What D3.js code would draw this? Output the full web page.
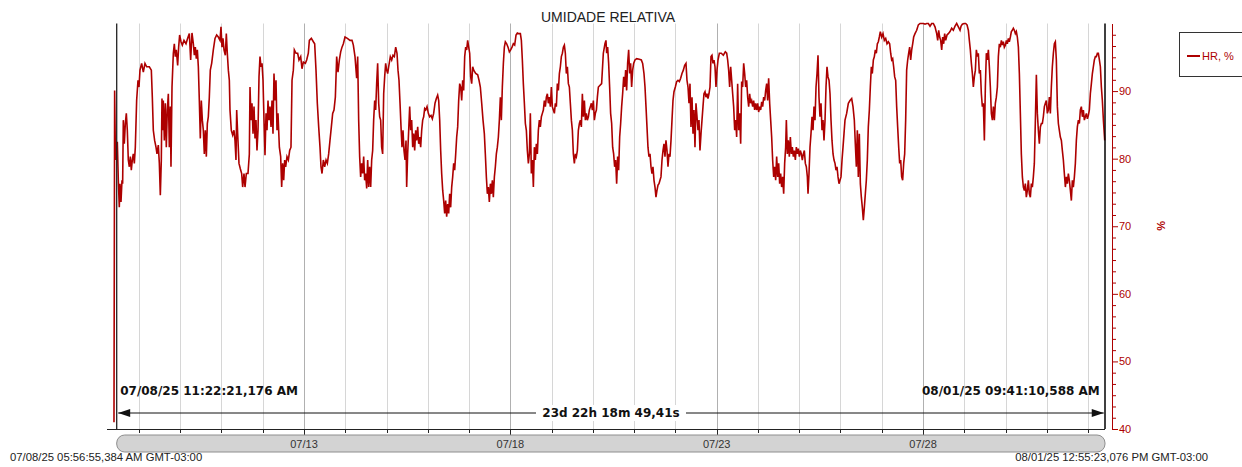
<!DOCTYPE html>
<html lang="pt">
<head>
    <meta charset="UTF-8">
    <title>Umidade Relativa</title>
    <script src="https://d3js.org/d3.v7.min.js"></script>
    <style>
body {
    margin: 0;
    background: #fff;
    font-family: "Liberation Sans", Arial, sans-serif;
}
svg {
    display: block;
}
    </style>
</head>
<body>
    <svg id="chart"></svg>

    <script>
// day offsets from 07/08/25 00:00 (GMT-03:00) and HR values in %
const hrDays1 = [0.396,0.412,0.428,0.444,0.477,0.501,0.525,0.541,0.566,0.590,0.606,0.622,0.646,0.671,0.695,0.719,0.743,0.768,0.792,0.816,0.840,0.864,0.889,0.913,0.945,0.978,1.002,1.026,1.066,1.107,1.147,1.188,1.252,1.301,1.325,1.349,1.381,1.414,1.438,1.470,1.495,1.519,1.543,1.559,1.575,1.591,1.616,1.640,1.664,1.688,1.713,1.737,1.761,1.777,1.802,1.834,1.858,1.882,1.906,1.939,1.963,1.987,2.020,2.052,2.092,2.141,2.181,2.222,2.254,2.286,2.319,2.343,2.367,2.391,2.416,2.440,2.464,2.488,2.512,2.537,2.561,2.585,2.609,2.634,2.658,2.682,2.706,2.730,2.763,2.803,2.844,2.884,2.924,2.965,2.989,3.013,3.037,3.062,3.094,3.118,3.142,3.167,3.191,3.207,3.239,3.272,3.304,3.328,3.352,3.369,3.393,3.425,3.457,3.490,3.514,3.546,3.571,3.603,3.643,3.676,3.692,3.716,3.740,3.765,3.789,3.813,3.837,3.861,3.886,3.910,3.934,3.958,3.983,4.007,4.031,4.055,4.080,4.104,4.128,4.152,4.176,4.201,4.225,4.249,4.273,4.298,4.322,4.346,4.370,4.403,4.435,4.459,4.483,4.508,4.532,4.556,4.588,4.621,4.653,4.685,4.710,4.742,4.766,4.807,4.847,4.879,4.920,4.952,4.984,5.033,5.065,5.105,5.130,5.178,5.227,5.259,5.291,5.323,5.356,5.388,5.412,5.437,5.469,5.501,5.534,5.566,5.598,5.630,5.663,5.695,5.727,5.760,5.792,5.824,5.857,5.889,5.921,5.954,5.994,6.051,6.115,6.164,6.196];
const hrValues1 = [41.0,90.1,81.7,79.8,82.5,76.8,72.8,76.3,73.6,76.8,76.3,85.7,82.2,85.2,86.7,84.2,79.8,78.8,80.3,78.3,79.8,80.7,79.3,81.7,88.6,91.6,90.6,93.1,94.1,92.8,94.1,93.6,93.6,93.1,89.1,84.2,82.7,81.7,80.7,82.0,79.3,74.6,79.8,88.9,84.2,88.6,82.7,88.2,81.7,87.2,89.6,81.7,87.7,78.8,90.6,95.6,97.0,95.1,96.1,93.8,96.5,98.3,97.3,96.8,97.5,97.0,97.8,98.5,94.6,98.6,97.0,95.3,96.5,94.8,96.1,93.6,88.6,83.0,88.6,85.7,84.2,80.7,84.2,80.3,85.2,86.2,89.1,93.1,94.1,96.1,97.8,98.3,98.0,97.5,99.5,96.5,97.8,96.1,95.3,98.5,95.6,93.1,91.6,87.2,84.2,83.5,84.2,82.7,79.8,87.2,83.7,79.3,78.5,77.8,75.8,77.8,75.8,77.8,77.8,80.7,90.6,85.7,88.2,83.7,87.7,83.0,85.7,81.2,84.2,92.1,95.1,93.6,94.1,91.6,85.7,80.5,86.7,84.2,88.6,85.7,87.7,84.7,88.6,83.7,92.6,88.6,91.6,84.2,86.7,81.7,80.3,75.8,79.3,76.8,79.8,78.8,80.3,79.8,81.2,81.7,91.6,93.1,96.1,95.6,95.6,94.6,95.1,93.3,94.3,94.1,94.6,95.6,97.5,97.8,97.3,97.0,93.1,88.2,84.7,81.7,78.8,77.8,79.8,78.8,79.8,79.3,80.7,82.7,84.7,86.7,87.2,89.1,95.1,92.8,94.6,95.8,96.5,97.0,98.0,97.8,97.5,97.5,96.8];

const hrDays2 = [6.236,6.276,6.301,6.325,6.349,6.373,6.398,6.422,6.446,6.470,6.494,6.519,6.543,6.567,6.591,6.616,6.640,6.664,6.688,6.713,6.737,6.761,6.785,6.810,6.834,6.858,6.882,6.906,6.931,6.955,6.979,7.003,7.028,7.052,7.092,7.125,7.157,7.189,7.222,7.254,7.278,7.302,7.327,7.351,7.375,7.399,7.423,7.448,7.472,7.488,7.512,7.537,7.561,7.585,7.609,7.634,7.658,7.682,7.706,7.730,7.755,7.779,7.803,7.827,7.852,7.876,7.900,7.924,7.949,7.981,8.013,8.045,8.078,8.110,8.142,8.175,8.207,8.239,8.264,8.288,8.312,8.336,8.361,8.385,8.409,8.433,8.457,8.482,8.506,8.530,8.554,8.579,8.603,8.627,8.651,8.676,8.700,8.724,8.748,8.773,8.797,8.821,8.845,8.869,8.894,8.918,8.942,8.966,8.991,9.015,9.039,9.063,9.088,9.112,9.160,9.209,9.241,9.273,9.306,9.338,9.370,9.394,9.419,9.443,9.467,9.491,9.516,9.540,9.564,9.588,9.613,9.637,9.661,9.685,9.710,9.734,9.758,9.782,9.806,9.831,9.855,9.879,9.911,9.944,9.976,10.008,10.041,10.073,10.105,10.138,10.170,10.210,10.243,10.267,10.291,10.315,10.340,10.364,10.388,10.412,10.437,10.461,10.485,10.509,10.534,10.558,10.582,10.606,10.630,10.655,10.679,10.703,10.727,10.752,10.776,10.800,10.824,10.849,10.873,10.897,10.921,10.945,10.970,10.994,11.018,11.042,11.067,11.091,11.115,11.139,11.164,11.188,11.212,11.236,11.261,11.285,11.309,11.333,11.357,11.382,11.406,11.430,11.454,11.479,11.503,11.527,11.551,11.576,11.600,11.624,11.648,11.673,11.697,11.721,11.745,11.769,11.794,11.818,11.842,11.866,11.891,11.915,11.939,11.963,11.988,12.012,12.036,12.060,12.085,12.109,12.133];
const hrValues2 = [95.1,91.9,95.1,85.7,80.3,77.3,79.3,77.8,80.3,76.8,77.8,75.6,79.8,75.8,78.8,75.8,79.8,81.2,85.7,88.6,87.2,91.1,94.1,88.2,86.2,85.7,81.7,80.7,89.6,92.1,94.1,93.1,92.6,93.6,95.1,94.6,95.3,95.1,96.5,95.6,93.1,91.6,88.2,84.7,81.7,84.2,81.2,79.8,82.7,75.8,80.7,84.2,87.7,84.2,85.7,81.7,83.7,81.2,84.2,82.7,84.7,82.2,83.2,81.7,84.2,85.7,86.2,87.4,87.2,87.7,86.7,86.2,86.4,85.9,86.7,88.2,88.9,89.4,88.6,85.7,81.2,77.8,75.3,73.8,71.9,73.8,71.4,73.3,71.9,74.8,72.8,75.8,77.3,79.3,78.3,80.7,83.2,84.7,88.6,91.1,90.6,88.6,91.6,90.1,95.1,96.5,96.1,97.5,96.5,95.6,92.1,91.1,93.6,93.1,92.6,92.4,91.6,90.6,88.2,85.7,83.7,80.7,77.3,74.8,75.8,73.6,76.3,74.8,76.8,74.3,77.3,78.8,80.7,81.7,83.2,85.7,89.1,85.7,90.6,94.1,96.5,97.3,97.0,96.5,95.8,96.1,96.5,97.0,96.8,98.3,98.6,98.5,98.5,97.5,94.6,91.1,88.2,85.2,84.2,81.2,79.3,80.7,86.7,77.8,79.8,75.8,81.7,79.8,82.2,80.7,84.2,85.7,84.7,86.2,86.7,87.2,88.6,87.7,89.1,89.6,88.2,89.1,87.7,90.6,87.7,87.2,86.7,88.2,87.7,91.1,90.1,92.6,93.6,95.1,95.6,96.5,96.8,95.6,92.6,93.6,91.1,90.6,88.2,85.7,84.2,80.7,79.3,80.7,80.3,81.2,84.2,85.2,85.7,84.7,89.6,86.2,88.6,85.7,86.7,85.7,86.2,87.2,87.7,88.2,87.2,88.6,85.7,86.7,87.2,89.1,90.6];

const hrDays3 = [12.212,12.253,12.293,12.317,12.334,12.358,12.382,12.406,12.430,12.455,12.479,12.503,12.527,12.552,12.576,12.600,12.624,12.649,12.673,12.697,12.721,12.746,12.770,12.794,12.818,12.842,12.867,12.891,12.915,12.939,12.964,12.988,13.020,13.061,13.125,13.174,13.206,13.238,13.263,13.287,13.311,13.335,13.359,13.384,13.408,13.432,13.456,13.481,13.505,13.529,13.553,13.578,13.602,13.626,13.650,13.675,13.699,13.723,13.747,13.771,13.796,13.820,13.844,13.868,13.893,13.917,13.941,13.965,13.998,14.030,14.062,14.095,14.127,14.159,14.192,14.224,14.256,14.280,14.305,14.329,14.353,14.377,14.402,14.426,14.450,14.474,14.498,14.523,14.547,14.571,14.595,14.620,14.644,14.668,14.692,14.717,14.741,14.765,14.789,14.813,14.838,14.862,14.886,14.910,14.935,14.959,14.983,15.007,15.032,15.064,15.112,15.161,15.209,15.242,15.266,15.290,15.314,15.339,15.363,15.387,15.411,15.436,15.460,15.484,15.508,15.532,15.557,15.581,15.605,15.629,15.654,15.678,15.702,15.726,15.751,15.775,15.799,15.823,15.847,15.872,15.896,15.920,15.944,15.969,15.993,16.017,16.041,16.066,16.090,16.114,16.138,16.163,16.187,16.211,16.235,16.259,16.284,16.308,16.332,16.356,16.381,16.405,16.429,16.453,16.478,16.502,16.526,16.550,16.574,16.599,16.623,16.647,16.671,16.688,16.712,16.736,16.760,16.785,16.809,16.833,16.857,16.881,16.906,16.930,16.954,16.978,17.003,17.027,17.051,17.075,17.100,17.124,17.148,17.172,17.197,17.213,17.237,17.261,17.285,17.310,17.334,17.358,17.382,17.407,17.431,17.455,17.479,17.503,17.528,17.552,17.576,17.600,17.625,17.649,17.673,17.697,17.722,17.746,17.770,17.794,17.819,17.843,17.867,17.891,17.915,17.940,17.964,17.988,18.012,18.037,18.061,18.085];
const hrValues3 = [91.1,95.6,97.0,97.5,95.6,96.5,94.1,90.6,86.7,85.2,81.7,80.7,78.8,79.8,76.3,80.3,78.3,83.2,85.2,87.7,89.6,92.1,90.6,93.1,90.1,94.1,96.1,92.6,94.1,90.6,93.1,94.1,94.6,94.8,94.7,94.6,94.1,92.6,90.6,87.7,84.7,81.7,80.3,80.7,78.8,77.8,78.8,76.8,75.8,74.3,75.3,76.1,76.3,76.8,77.3,79.8,81.2,82.2,80.3,82.7,81.2,78.8,80.7,80.3,82.7,85.7,88.6,89.9,90.6,91.4,91.6,91.4,91.9,92.6,93.1,93.8,94.1,91.6,90.6,88.2,91.1,84.7,89.1,83.7,87.2,81.7,88.2,86.2,84.2,85.7,81.2,83.7,85.7,87.7,89.6,89.9,89.1,89.6,88.9,89.6,90.6,95.1,95.3,94.1,94.6,93.6,90.6,93.1,94.6,95.6,95.6,95.3,95.8,95.6,94.6,93.1,90.6,93.6,91.6,89.6,87.7,84.2,85.7,83.2,91.1,84.2,86.7,82.2,91.4,90.6,94.1,92.6,90.6,91.6,89.1,87.7,89.6,88.2,88.6,87.7,88.6,87.2,88.2,87.2,88.2,86.9,87.7,87.2,88.4,87.7,89.1,88.6,90.1,91.1,88.6,91.9,88.2,85.7,83.2,79.8,77.3,78.8,76.8,80.3,77.3,79.3,76.3,77.8,75.8,77.3,74.8,79.3,81.7,85.7,80.7,82.7,80.3,83.2,80.7,81.7,80.3,81.2,79.8,81.7,80.7,81.5,80.3,81.2,80.7,79.8,80.7,81.2,79.3,78.8,77.3,74.8,77.8,81.7,83.7,86.2,84.2,87.7,85.7,90.6,92.6,95.3,89.1,86.2,88.2,84.2,85.7,82.7,85.7,90.6,93.6,92.1,91.6,89.6,85.7,82.7,80.7,79.8,79.3,78.3,78.8,77.3,76.3,76.8,77.3,79.8,81.7,83.7];

const hrDays4 = [18.109,18.149,18.190,18.230,18.271,18.303,18.335,18.359,18.384,18.408,18.432,18.456,18.481,18.505,18.529,18.553,18.578,18.602,18.626,18.650,18.674,18.699,18.723,18.747,18.771,18.796,18.820,18.844,18.868,18.893,18.917,18.941,18.965,18.998,19.030,19.062,19.095,19.127,19.159,19.191,19.216,19.240,19.264,19.288,19.313,19.337,19.361,19.385,19.410,19.434,19.458,19.482,19.506,19.531,19.555,19.579,19.603,19.628,19.652,19.676,19.700,19.725,19.749,19.773,19.805,19.846,19.886,19.927,19.967,20.015,20.048,20.088,20.129,20.169,20.209,20.250,20.290,20.331,20.355,20.379,20.403,20.427,20.452,20.476,20.500,20.524,20.549,20.581,20.613,20.654,20.694,20.734,20.775,20.815,20.856,20.896,20.920,20.952,20.993,21.033,21.066,21.098,21.122,21.146,21.171,21.195,21.219,21.243,21.268,21.292,21.316,21.340,21.364,21.389,21.413,21.437,21.461,21.486,21.510,21.534,21.558,21.583,21.607,21.631,21.655,21.680,21.704,21.728,21.752,21.776,21.801,21.825,21.849,21.873,21.898,21.922,21.946,21.970,21.995,22.019,22.043,22.067,22.091,22.116,22.140,22.164,22.188,22.213,22.237,22.261,22.285,22.310,22.334,22.358,22.382,22.407,22.431,22.455,22.479,22.503,22.528,22.552,22.576,22.600,22.625,22.649,22.673,22.697,22.722,22.746,22.770,22.794,22.818,22.843,22.867,22.891,22.915,22.940,22.964,22.988,23.012,23.037,23.061,23.085,23.109,23.133,23.158,23.182,23.206,23.230,23.255,23.279,23.303,23.327,23.352,23.376,23.400,23.424,23.449,23.473,23.497,23.521,23.545,23.570,23.594,23.618,23.642,23.667,23.691,23.715,23.739,23.764,23.788,23.812,23.836,23.861,23.885,23.909,23.933,23.958,23.982,24.006,24.030,24.054,24.079,24.103,24.127,24.151,24.176,24.200,24.224,24.248,24.273,24.297,24.321,24.345,24.370,24.386,24.402];
const hrValues4 = [85.7,86.7,88.2,88.6,88.9,87.7,85.7,82.2,78.8,84.2,77.3,83.7,76.3,74.3,72.8,70.9,72.8,74.8,76.8,79.8,84.7,87.2,90.6,93.6,92.6,94.6,95.1,96.1,95.6,97.0,97.3,98.0,98.8,98.0,98.5,97.5,97.8,97.0,97.3,97.0,95.6,94.6,94.8,93.6,92.1,91.6,87.7,84.7,81.7,79.3,79.8,77.3,76.8,79.3,80.7,85.7,93.1,94.6,95.6,96.5,94.6,96.1,97.0,98.0,98.5,99.0,99.8,100.0,100.0,100.0,99.9,100.0,100.0,99.6,100.0,100.0,99.5,98.5,97.5,99.0,98.0,97.5,96.1,98.0,97.0,98.5,97.5,98.3,98.5,98.8,99.3,99.0,99.6,100.0,99.5,99.0,99.6,99.9,100.0,100.0,99.8,99.0,97.5,96.1,94.1,92.6,90.6,92.1,93.1,96.1,95.1,95.6,92.6,93.1,89.6,87.7,88.2,82.7,90.6,95.6,94.6,96.1,93.6,90.6,86.7,85.7,87.7,85.7,88.2,89.1,90.6,95.1,97.0,96.5,97.5,96.8,97.3,96.5,96.8,97.5,97.0,97.8,97.3,98.0,98.8,99.0,99.3,99.0,98.5,98.8,98.0,96.5,92.6,86.7,80.7,77.3,75.8,75.3,76.3,74.3,75.3,76.8,74.8,74.3,76.3,75.8,77.3,79.3,85.7,92.4,86.7,84.2,82.2,84.7,85.2,85.2,86.2,87.7,88.2,88.6,86.7,87.2,89.1,86.7,90.6,93.6,95.6,97.0,97.3,94.6,87.7,85.2,84.2,83.2,82.7,81.2,79.8,77.8,75.8,77.3,76.3,77.8,76.8,75.3,73.8,76.8,75.8,77.3,79.3,82.7,84.7,85.7,85.2,87.2,87.7,86.2,87.2,85.7,86.2,86.7,85.9,86.4,87.2,89.6,91.1,92.6,93.6,94.6,95.1,95.1,95.6,95.6,94.6,93.6,90.6,88.6,85.7,84.2,82.7];

const hrDays = [...hrDays1, ...hrDays2, ...hrDays3, ...hrDays4];
const hrValues = [...hrValues1, ...hrValues2, ...hrValues3, ...hrValues4];

const yMajorTicks = [40, 50, 60, 70, 80, 90];
const dateTickLabels = ["07/13", "07/18", "07/23", "07/28"];

const titleText = "UMIDADE RELATIVA";
const legendText = "HR, %";
const cursorStartText = "07/08/25 11:22:21,176 AM";
const cursorEndText = "08/01/25 09:41:10,588 AM";
const durationText = "23d 22h 18m 49,41s";
const rangeStartText = "07/08/25 05:56:55,384 AM GMT-03:00";
const rangeEndText = "08/01/25 12:55:23,076 PM GMT-03:00";

const width = 1242;
const height = 467;
const plotLeft = 116.7, plotRight = 1105, plotTop = 23.5, plotBottom = 429;
const red = "#ad0000";

const dayMs = 86400000;
const t0 = Date.UTC(2025, 6, 8);
const toDate = d => new Date(t0 + d * dayMs);
const cursorStart = new Date(Date.UTC(2025, 6, 8, 11, 22, 21));
const cursorEnd = new Date(Date.UTC(2025, 7, 1, 9, 41, 10));

const x = d3.scaleUtc()
    .domain([new Date(Date.UTC(2025, 6, 8, 11, 5)), new Date(Date.UTC(2025, 7, 1, 9, 49))])
    .range([plotLeft, plotRight]);
const y = d3.scaleLinear().domain([40, 100]).range([plotBottom, plotTop]);

const data = hrDays.map((d, i) => ({ date: toDate(d), value: hrValues[i] }));
const labelDates = dateTickLabels.map(s => new Date(Date.UTC(2025, +s.slice(0, 2) - 1, +s.slice(3))));
const isLabelDay = d => labelDates.some(l => +l === +d);

const svg = d3.select("#chart").attr("width", width).attr("height", height);

// title
svg.append("text")
    .attr("x", 608).attr("y", 22)
    .attr("text-anchor", "middle")
    .attr("font-size", "14px")
    .attr("fill", "#222")
    .text(titleText);

// day gridlines
const days = d3.utcDay.range(x.domain()[0], x.domain()[1]);
svg.append("g").selectAll("line")
    .data(days)
    .join("line")
    .attr("x1", d => Math.round(x(d)) + 0.5).attr("x2", d => Math.round(x(d)) + 0.5)
    .attr("y1", plotTop).attr("y2", plotBottom)
    .attr("stroke", d => isLabelDay(d) ? "#b0b0b0" : "#d6d6d6")
    .attr("stroke-width", 1);

// series
const line = d3.line()
    .x(d => x(d.date))
    .y(d => y(d.value));

svg.append("path")
    .datum(data)
    .attr("fill", "none")
    .attr("stroke", red)
    .attr("stroke-width", 1.6)
    .attr("d", line);

// plot borders
svg.append("line")
    .attr("x1", plotLeft).attr("x2", plotLeft).attr("y1", plotTop).attr("y2", plotBottom)
    .attr("stroke", "#222").attr("stroke-width", 1.3);
svg.append("line")
    .attr("x1", plotRight).attr("x2", plotRight).attr("y1", plotTop).attr("y2", plotBottom)
    .attr("stroke", "#000").attr("stroke-width", 1.5);

// bottom time axis
svg.append("line")
    .attr("x1", 107).attr("x2", plotRight).attr("y1", plotBottom + 0.5).attr("y2", plotBottom + 0.5)
    .attr("stroke", "#222");
svg.append("g")
    .selectAll("line")
    .data(days)
    .join("line")
    .attr("x1", d => Math.round(x(d)) + 0.5).attr("x2", d => Math.round(x(d)) + 0.5)
    .attr("y1", plotBottom).attr("y2", d => plotBottom + (isLabelDay(d) ? 7 : 4))
    .attr("stroke", "#222");

// range bar
svg.append("rect")
    .attr("x", x.range()[0]).attr("y", 435)
    .attr("width", x.range()[1] - x.range()[0]).attr("height", 17)
    .attr("rx", 8).attr("ry", 8)
    .attr("fill", "#d3d3d3")
    .attr("stroke", "#8e8e8e");
svg.append("g").selectAll("text")
    .data(labelDates)
    .join("text")
    .attr("x", d => x(d)).attr("y", 448)
    .attr("text-anchor", "middle")
    .attr("font-size", "11px")
    .attr("fill", "#333")
    .text((d, i) => dateTickLabels[i]);

svg.append("text")
    .attr("x", 10).attr("y", 461)
    .attr("font-size", "11.3px").attr("fill", "#222")
    .text(rangeStartText);
svg.append("text")
    .attr("x", 1208).attr("y", 461)
    .attr("text-anchor", "end")
    .attr("font-size", "11.3px").attr("fill", "#222")
    .text(rangeEndText);

// right value axis
const yAxisX = 1112;
const minorTicks = d3.range(0, 37).map(i => 40 + i * 10 / 6).filter(v => v <= 100 && Math.abs(v / 10 - Math.round(v / 10)) > 0.01);
svg.append("g")
    .attr("transform", `translate(${yAxisX},0)`)
    .call(d3.axisRight(y).tickValues(minorTicks).tickSize(4).tickSizeOuter(0).tickFormat(""))
    .call(g => g.selectAll("line,path").attr("stroke", red));
svg.append("g")
    .attr("transform", `translate(${yAxisX},0)`)
    .call(d3.axisRight(y).tickValues(yMajorTicks).tickSize(6).tickSizeOuter(0).tickPadding(1))
    .call(g => g.select(".domain").remove())
    .call(g => g.selectAll("line").attr("stroke", red))
    .call(g => g.selectAll("text")
        .attr("fill", red)
        .attr("font-size", "11px")
        .attr("font-family", "Liberation Sans, Arial, sans-serif"));

svg.append("text")
    .attr("transform", "translate(1160,226) rotate(90)")
    .attr("text-anchor", "middle")
    .attr("dominant-baseline", "middle")
    .attr("font-size", "11px")
    .attr("font-weight", "bold")
    .attr("fill", red)
    .text("%");

// legend
svg.append("rect")
    .attr("x", 1179.5).attr("y", 32.5)
    .attr("width", 80).attr("height", 44)
    .attr("fill", "#fff")
    .attr("stroke", "#333");
svg.append("line")
    .attr("x1", 1187).attr("x2", 1200).attr("y1", 56).attr("y2", 56)
    .attr("stroke", red).attr("stroke-width", 2);
svg.append("text")
    .attr("x", 1202).attr("y", 60)
    .attr("font-size", "11px")
    .attr("fill", red)
    .text(legendText);

// cursors
const labelFont = "DejaVu Sans, Verdana, sans-serif";
svg.append("text")
    .attr("x", x(cursorStart) + 3).attr("y", 395)
    .attr("font-family", labelFont).attr("font-weight", "bold")
    .attr("font-size", "12px").attr("fill", "#111")
    .text(cursorStartText);
svg.append("text")
    .attr("x", x(cursorEnd) - 5).attr("y", 395)
    .attr("text-anchor", "end")
    .attr("font-family", labelFont).attr("font-weight", "bold")
    .attr("font-size", "12px").attr("fill", "#111")
    .text(cursorEndText);

const arrowY = 413;
const ax0 = x(cursorStart) + 1, ax1 = x(cursorEnd) - 1;
svg.append("line")
    .attr("x1", ax0).attr("x2", ax1).attr("y1", arrowY).attr("y2", arrowY)
    .attr("stroke", "#111");
svg.append("path")
    .attr("d", `M${ax0},${arrowY}L${ax0 + 12},${arrowY - 4}L${ax0 + 12},${arrowY + 4}Z`)
    .attr("fill", "#111");
svg.append("path")
    .attr("d", `M${ax1},${arrowY}L${ax1 - 12},${arrowY - 4}L${ax1 - 12},${arrowY + 4}Z`)
    .attr("fill", "#111");

const midX = (ax0 + ax1) / 2;
svg.append("rect")
    .attr("x", midX - 75).attr("y", arrowY - 8)
    .attr("width", 150).attr("height", 16)
    .attr("fill", "#fff");
svg.append("text")
    .attr("x", midX).attr("y", arrowY + 4)
    .attr("text-anchor", "middle")
    .attr("font-family", labelFont).attr("font-weight", "bold")
    .attr("font-size", "12px").attr("fill", "#111")
    .text(durationText);
    </script>
</body>
</html>
